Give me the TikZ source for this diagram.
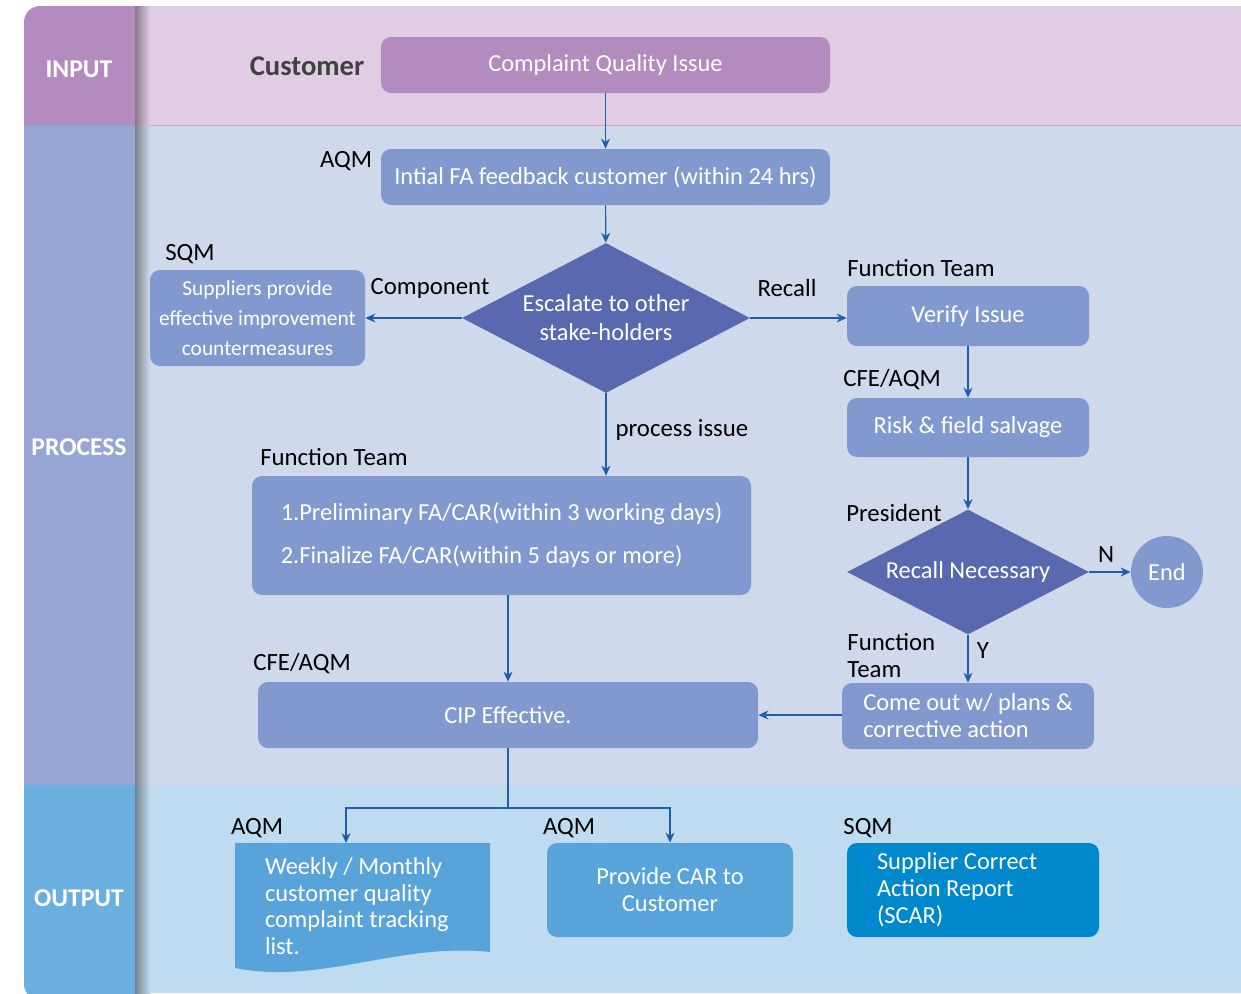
\documentclass[tikz,border=0pt]{standalone}
\usepackage{fontspec}
\setmainfont{Carlito}
\usetikzlibrary{shapes.geometric,arrows.meta}

\definecolor{inleft}{HTML}{B48BBE}
\definecolor{inband}{HTML}{E0CCE3}
\definecolor{prleft}{HTML}{96A5D3}
\definecolor{prband}{HTML}{D0D8EB}
\definecolor{outleft}{HTML}{6AAFDF}
\definecolor{outband}{HTML}{BFDBF0}
\definecolor{boxblue}{HTML}{8299D0}
\definecolor{diam}{HTML}{5A69AF}
\definecolor{outbox}{HTML}{58A3DA}
\definecolor{scar}{HTML}{0088CC}
\definecolor{arr}{HTML}{1E5EAA}

\begin{document}
\begin{tikzpicture}[x=0.5pt, y=-0.5pt,
  box/.style={rounded corners=5pt, fill=boxblue, text=white, align=center,
    inner sep=0pt, font=\fontsize{12.2}{13.5}\selectfont},
  decide/.style={diamond, fill=diam, text=white, align=center, inner sep=0pt,
    font=\fontsize{12.2}{14.5}\selectfont},
  role/.style={inner sep=0pt, font=\fontsize{12.4}{13.5}\selectfont},
  side/.style={text=white, font=\bfseries\fontsize{12.8}{14}\selectfont},
  flow/.style={draw=arr, line width=0.6pt, -{Stealth[length=5pt,width=4.5pt]}}]

\useasboundingbox (0,0) rectangle (1241,993);

% swimlanes
\begin{scope}
\clip[rounded corners=8pt] (24,6) rectangle (200,1000);
\fill[inleft] (24,6) rectangle (135,125);
\fill[prleft] (24,125) rectangle (135,785);
\fill[outleft] (24,785) rectangle (135,1000);
\end{scope}
\fill[inband] (135,6) rectangle (1241,125);
\fill[prband] (135,125) rectangle (1241,785);
\fill[outband] (135,785) rectangle (1241,993);
\draw[inleft!60!inband, line width=0.4pt] (135,125) -- (1241,125);
\shade[left color=black!40!inband, right color=inband] (135,6) rectangle (150,125);
\shade[left color=black!40!prband, right color=prband] (135,125) rectangle (150,785);
\shade[left color=black!40!outband, right color=outband] (135,785) rectangle (150,993);

\node[side] (lin) at (79,69) {INPUT};
\node[side] (lpr) at (79,447) {PROCESS};
\node[side] (lout) at (79,898) {OUTPUT};

% boxes
\node[box, fill=inleft, minimum width=224.5pt, minimum height=28pt] (cqi) at (605.5,65) {Complaint Quality Issue};
\node[box, minimum width=224.5pt, minimum height=28pt] (ifa) at (605.5,177) {Intial FA feedback customer (within 24 hrs)};
\node[decide, aspect=1.92, minimum width=144pt, minimum height=75pt] (esc) at (606,318) {Escalate to other\\stake-holders};
\node[box, minimum width=107.5pt, minimum height=48pt, font=\fontsize{10.7}{15}\selectfont] (sup) at (257.5,318)
  {Suppliers provide\\effective improvement\\countermeasures};
\node[box, minimum width=121pt, minimum height=30pt] (ver) at (968,316) {Verify Issue};
\node[box, minimum width=121pt, minimum height=29.5pt] (risk) at (968,427.5) {Risk \& field salvage};
\node[box, minimum width=249.5pt, minimum height=59.5pt, align=left, font=\fontsize{12.2}{21.5}\selectfont] (prel) at (501.5,535.5)
  {1.Preliminary FA/CAR(within 3 working days)\\2.Finalize FA/CAR(within 5 days or more)};
\node[decide, aspect=1.94, minimum width=121pt, minimum height=62.5pt] (rec) at (968,572) {Recall Necessary};
\node[circle, fill=boxblue, text=white, minimum size=36pt, inner sep=0pt, font=\fontsize{12.2}{13.5}\selectfont] (end) at (1167,572) {End};
\node[box, minimum width=250pt, minimum height=33pt] (cip) at (508,715) {CIP Effective.};
\node[box, minimum width=126pt, minimum height=33pt, align=left] (plan) at (968,716)
  {Come out w/ plans \&\\corrective action};

% output
\fill[outbox] (235,843) -- (490,843) -- (490,952) .. controls (400,942) and (320,985) .. (235,968) -- cycle;
\node[inner sep=0pt, minimum width=127.5pt, minimum height=63pt, text=white, align=flush left, text width=97.5pt,
  font=\fontsize{12.2}{13.3}\selectfont] (wk) at (362.5,906)
  {Weekly / Monthly\\customer quality\\complaint tracking\\list.};
\node[box, fill=outbox, minimum width=123pt, minimum height=47pt] (car) at (670,890) {Provide CAR to\\Customer};
\node[box, fill=scar, minimum width=126pt, minimum height=47pt, align=flush left, text width=96pt] (scar) at (973,890)
  {Supplier Correct\\Action Report\\(SCAR)};

% roles
\node[role, font=\bfseries\fontsize{14.3}{16}\selectfont, text=black!75] (cust) at (307,66) {Customer};
\node[role] (r1) at (346,161) {AQM};
\node[role] (r2) at (190,254) {SQM};
\node[role] (r3) at (430,288) {Component};
\node[role] (r4) at (787,288) {Recall};
\node[role] (r5) at (921,268) {Function Team};
\node[role] (r6) at (892,380) {CFE/AQM};
\node[role] (r7) at (682,430) {process issue};
\node[role] (r8) at (334,457) {Function Team};
\node[role] (r9) at (894,513) {President};
\node[role] (r10) at (1106,555) {N};
\node[role] (r11) at (983,651) {Y};
\node[role, align=left, anchor=west] (r12) at (847,655) {Function\\Team};
\node[role] (r13) at (302,664) {CFE/AQM};
\node[role] (r14) at (257,828) {AQM};
\node[role] (r15) at (569,828) {AQM};
\node[role] (r16) at (868,828) {SQM};

% connectors
\coordinate (split) at (508,808);
\coordinate (wktop) at (346,843);
\draw[flow] (cqi) -- (ifa);
\draw[flow] (ifa) -- (esc);
\draw[flow] (esc.west) -- (sup.east);
\draw[flow] (esc.east) -- (esc.east -| ver.west);
\draw[flow] (ver) -- (risk);
\draw[flow] (risk) -- (rec);
\draw[flow] (esc.south) -- (esc.south |- prel.north);
\draw[flow] (prel.south -| cip.north) -- (cip.north);
\draw[flow] (rec.east) -- (end.west);
\draw[flow] (rec.south) -- (rec.south |- plan.north);
\draw[flow] (plan.west |- cip.east) -- (cip.east);
\draw[draw=arr, line width=0.6pt] (cip.south) -- (split);
\draw[flow] (split) -| (wktop);
\draw[flow] (split) -| (car.north);

\end{tikzpicture}
\end{document}
